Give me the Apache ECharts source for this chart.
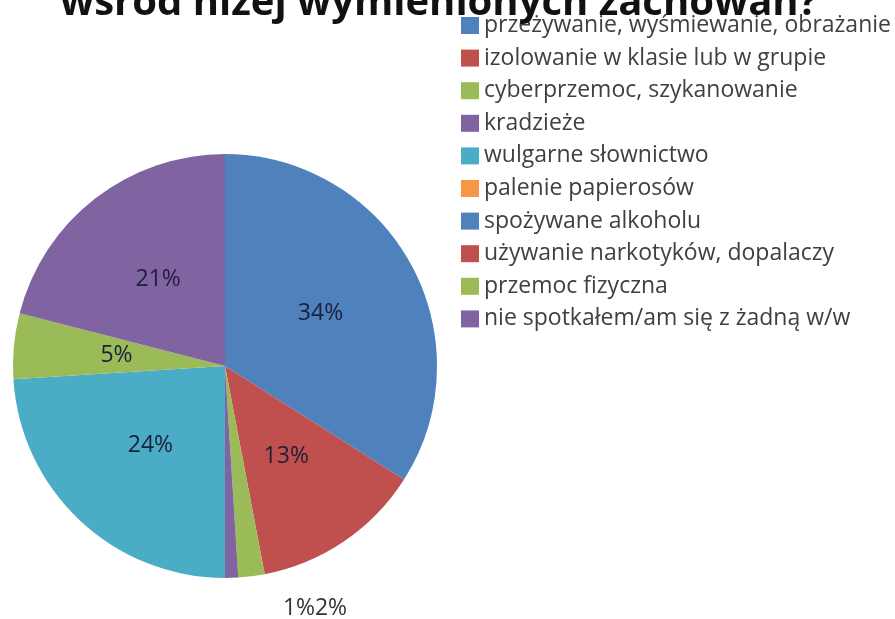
<!DOCTYPE html>
<html>
<head>
<meta charset="utf-8">
<script src="https://cdn.jsdelivr.net/npm/echarts@6/dist/echarts.min.js"></script>
<style>
    html, body {margin: 0; padding: 0; background: #fff;}
    #pieChart {width: 895px; height: 619px;}
</style>
</head>
<body>
<div id="pieChart"></div>
<script>
var titleText = 'wśród niżej wymienionych zachowań?';
var categories = [
    'przeżywanie, wyśmiewanie, obrażanie',
    'izolowanie w klasie lub w grupie',
    'cyberprzemoc, szykanowanie',
    'kradzieże',
    'wulgarne słownictwo',
    'palenie papierosów',
    'spożywane alkoholu',
    'używanie narkotyków, dopalaczy',
    'przemoc fizyczna',
    'nie spotkałem/am się z żadną w/w'
];
var percents = [34, 13, 2, 1, 24, 0, 0, 0, 5, 21];
var colors = ['#4F81BD', '#C0504D', '#9BBB59', '#8064A2', '#4BACC6',
    '#F79646', '#4F81BD', '#C0504D', '#9BBB59', '#8064A2'];

var ChartUtils = {
    init: function () {
        this.drawPie('pieChart');
    },
    drawPie: function (id) {
        var data = [];
        for (var i = 0; i < categories.length; i++) {
            data.push({value: percents[i], name: categories[i]});
        }
        var option = {
            color: colors,
            animation: false,
            title: {
                text: titleText,
                left: 55,
                top: -21,
                textStyle: {
                    fontFamily: 'Open Sans',
                    fontWeight: 'bold',
                    fontSize: 40,
                    color: '#111'
                }
            },
            legend: {
                orient: 'vertical',
                left: 456,
                top: 9,
                icon: 'rect',
                itemWidth: 18,
                itemHeight: 17,
                itemGap: 9.6,
                selectedMode: false,
                textStyle: {
                    fontFamily: 'Open Sans',
                    fontSize: 23,
                    lineHeight: 23,
                    color: '#404040'
                },
                data: categories
            },
            series: [
                {
                    name: '',
                    type: 'pie',
                    center: [225, 366],
                    radius: 212,
                    startAngle: 90,
                    avoidLabelOverlap: false,
                    label: {
                        position: 'inside',
                        fontFamily: 'Open Sans',
                        fontSize: 23,
                        color: '#1d1f3a',
                        formatter: function (p) {
                            return p.value > 0 ? p.value + '%' : '';
                        }
                    },
                    labelLine: {show: false},
                    labelLayout: function (p) {
                        // the two thin slices get their labels below the pie
                        if (p.dataIndex === 3) {
                            return {x: 299, y: 608, align: 'center', verticalAlign: 'middle'};
                        }
                        if (p.dataIndex === 2) {
                            return {x: 331, y: 608, align: 'center', verticalAlign: 'middle'};
                        }
                    },
                    data: data.map(function (d, i) {
                        if (i === 2 || i === 3) {
                            d.label = {color: '#333'};
                        }
                        return d;
                    })
                }
            ]
        };
        var panel = document.getElementById(id);
        var chart = echarts.init(panel);
        chart.setOption(option);
    }
};
ChartUtils.init();
</script>
</body>
</html>
